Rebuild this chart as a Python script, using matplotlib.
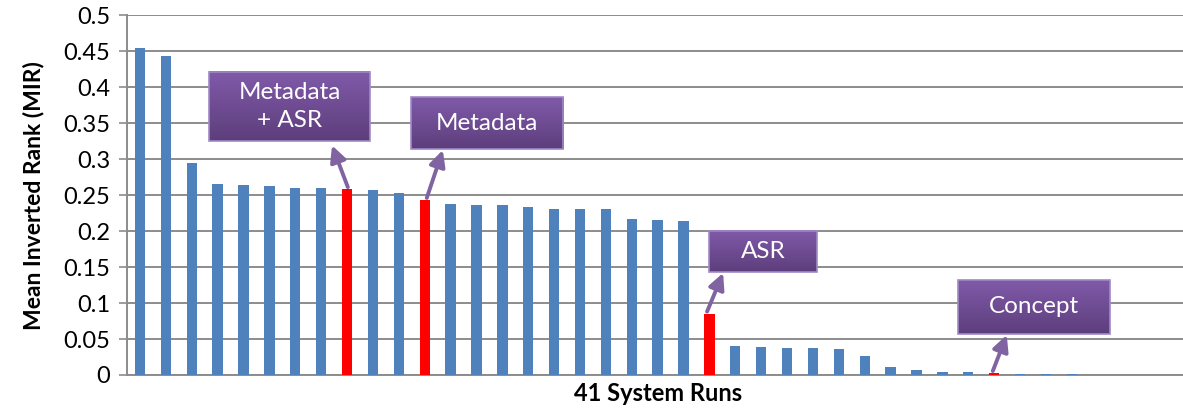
import numpy as np
import matplotlib
matplotlib.use("Agg")
import matplotlib.pyplot as plt
from matplotlib.patches import Rectangle

plt.rcParams['font.family'] = ['Lato', 'DejaVu Sans']

# Mean inverted rank per system run, ranked
mir = [0.454, 0.443, 0.294, 0.266, 0.264, 0.262, 0.260, 0.260, 0.258, 0.257,
       0.253, 0.243, 0.238, 0.2365, 0.236, 0.233, 0.231, 0.231, 0.231, 0.217,
       0.215, 0.214, 0.085, 0.040, 0.039, 0.0375, 0.0375, 0.036, 0.026, 0.0115,
       0.007, 0.004, 0.004, 0.0025, 0.002, 0.001, 0.001, 0.0, 0.0, 0.0, 0.0]
# Highlighted runs (index into mir) and their callout labels
highlight_idx = [8, 11, 22, 33]
highlight_labels = ["Metadata\n+ ASR", "Metadata", "ASR", "Concept"]

y_ticks = [0, 0.05, 0.1, 0.15, 0.2, 0.25, 0.3, 0.35, 0.4, 0.45, 0.5]
y_tick_labels = ["0", "0.05", "0.1", "0.15", "0.2", "0.25", "0.3", "0.35", "0.4", "0.45", "0.5"]

BLUE = "#4F81BD"
RED = "#FF0000"
GRID = "#8C8C8C"
ARROW = "#8064A2"

fig = plt.figure(figsize=(11.83, 4.08), dpi=100)
ax = fig.add_axes([0.1074, 0.0809, 0.897, 0.882])

x = np.arange(len(mir))
colors = [RED if i in highlight_idx else BLUE for i in x]
ax.bar(x, mir, width=0.4, color=colors, zorder=3)

ax.set_xlim(-0.5, len(mir) - 0.5)
ax.set_ylim(0, 0.5)
ax.set_yticks(y_ticks)
ax.set_yticklabels(y_tick_labels, fontsize=17)
ax.set_xticks([])
ax.yaxis.grid(True, color=GRID, linewidth=1.4, zorder=0)
ax.set_axisbelow(True)
for s in ["top", "right"]:
    ax.spines[s].set_visible(False)
for s in ["left", "bottom"]:
    ax.spines[s].set_color(GRID)
    ax.spines[s].set_linewidth(1.4)
ax.tick_params(axis="y", length=6, width=1.2, color=GRID, pad=6)

ax.set_ylabel("Mean Inverted Rank (MIR)", fontsize=16.5, fontweight="bold", labelpad=14)
ax.set_xlabel("41 System Runs", fontsize=17, fontweight="bold", labelpad=5)

# Callout boxes: (x0, x1, y0, y1) in data units, and arrow head positions
boxes = [(2.67, 8.89, 0.325, 0.421),
         (10.47, 16.35, 0.314, 0.386),
         (21.99, 26.16, 0.143, 0.200),
         (31.61, 37.48, 0.057, 0.132)]
heads = [(7.42, 0.319), (11.70, 0.3125), (22.53, 0.1417), (33.49, 0.0556)]
tail_dx = [0.03, 0.08, -0.09, -0.05]

top_c = np.array([0x80, 0x5A, 0xA9]) / 255
bot_c = np.array([0x5D, 0x3E, 0x7C]) / 255
grad = np.linspace(0, 1, 64)[:, None, None]
grad_img = top_c[None, None, :] * (1 - grad) + bot_c[None, None, :] * grad

for (x0, x1, y0, y1), label, idx, head, dx in zip(boxes, highlight_labels,
                                                   highlight_idx, heads, tail_dx):
    ax.imshow(grad_img, extent=(x0, x1, y0, y1), aspect="auto",
              origin="upper", zorder=5, interpolation="bilinear")
    ax.add_patch(Rectangle((x0, y0), x1 - x0, y1 - y0, fill=False,
                           edgecolor="#9F8AC6", linewidth=1.2, zorder=6))
    ax.text((x0 + x1) / 2, (y0 + y1) / 2, label, color="white", fontsize=17.5,
            ha="center", va="center", zorder=7, linespacing=1.45)
    ax.annotate("", xy=head, xytext=(idx + dx, mir[idx] + 0.003),
                arrowprops=dict(arrowstyle="-|>", color=ARROW, lw=2.8,
                                mutation_scale=24, shrinkA=0, shrinkB=0),
                zorder=6)

ax.set_xlim(-0.5, len(mir) - 0.5)
ax.set_ylim(0, 0.5)

fig.savefig("out.png", dpi=100)
